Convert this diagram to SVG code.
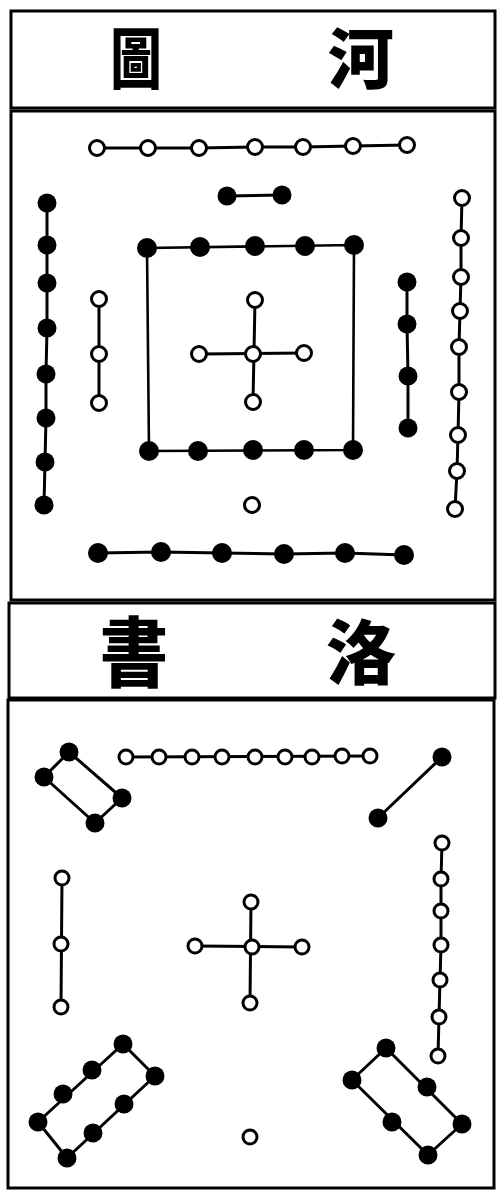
<svg xmlns="http://www.w3.org/2000/svg" width="498" height="1195" viewBox="0 0 498 1195">
<style>
.frame{fill:none;stroke:#000;stroke-width:3}
.ln{fill:none;stroke:#000;stroke-width:3;stroke-linecap:round;stroke-linejoin:round}
.sq{fill:none;stroke:#000;stroke-width:2.6}
.w{fill:#fff;stroke:#000;stroke-width:3}
.b{fill:#000}
.t{font-family:"Noto Sans CJK TC","Noto Sans CJK SC",serif;font-weight:900;fill:#000;text-anchor:middle}
</style>
<rect width="498" height="1195" fill="#fff"/>
<g id="frames">
<rect class="frame" x="11" y="11" width="484" height="97"/>
<rect class="frame" x="11" y="111" width="484" height="489"/>
<rect class="frame" x="9" y="603" width="486" height="95"/>
<rect class="frame" x="8" y="700" width="486" height="488"/>
</g>
<g id="title-hetu">
<text class="t" x="0" y="83" font-size="66" transform="translate(136,0) scale(0.78,1)">圖</text>
<text class="t" x="361" y="83" font-size="66">河</text>
</g>
<g id="title-luoshu">
<text class="t" x="0" y="681" font-size="76" transform="translate(134,0) scale(0.9,1)">書</text>
<text class="t" x="361" y="679" font-size="70">洛</text>
</g>
<g id="connectors">
<polyline class="ln" points="97,148 148,148 199,148 255,147 303,147 353,146 407,145"/>
<line class="ln" x1="227" y1="196" x2="282" y2="195"/>
<polyline class="ln" points="47,203 47,245 47,283 47,328 46,374 46,418 45,462 44,505"/>
<line class="ln" x1="99" y1="299" x2="99" y2="403"/>
<polyline class="sq" points="147,248 354,245 353,450 149,451 147,248"/>
<line class="ln" x1="255" y1="300" x2="253" y2="402"/>
<line class="ln" x1="199" y1="354" x2="304" y2="353"/>
<polyline class="ln" points="407,282 407,324 408,376 408,428"/>
<polyline class="ln" points="462,198 461,238 461,277 460,311 459,347 459,392 458,435 457,471 455,509"/>
<polyline class="ln" points="98,553 161,552 222,553 284,554 345,553 404,555"/>
<polyline class="ln" points="126,757 370,756"/>
<polygon class="ln" points="69,752 44,777 95,823 122,798"/>
<line class="ln" x1="442" y1="757" x2="378" y2="818"/>
<line class="ln" x1="62" y1="878" x2="61" y2="1007"/>
<line class="ln" x1="251" y1="902" x2="250" y2="1003"/>
<line class="ln" x1="195" y1="946" x2="302" y2="947"/>
<polyline class="ln" points="442,843 441,879 441,911 441,945 440,980 439,1017 438,1056"/>
<polygon class="ln" points="123,1044 155,1076 67,1158 38,1122"/>
<polygon class="ln" points="386,1048 462,1124 428,1155 352,1080"/>
</g>
<g id="hetu-north-7">
<circle class="w" cx="97" cy="148" r="7.5"/><circle class="w" cx="148" cy="148" r="7.5"/><circle class="w" cx="199" cy="148" r="7.5"/><circle class="w" cx="255" cy="147" r="7.5"/><circle class="w" cx="303" cy="147" r="7.5"/><circle class="w" cx="353" cy="146" r="7.5"/><circle class="w" cx="407" cy="145" r="7.5"/>
</g>
<g id="hetu-north-2">
<circle class="b" cx="227" cy="196" r="9.5"/><circle class="b" cx="282" cy="195" r="9.5"/>
</g>
<g id="hetu-west-8">
<circle class="b" cx="47" cy="203" r="9.5"/><circle class="b" cx="47" cy="245" r="9.5"/><circle class="b" cx="47" cy="283" r="9.5"/><circle class="b" cx="47" cy="328" r="9.5"/><circle class="b" cx="46" cy="374" r="9.5"/><circle class="b" cx="46" cy="418" r="9.5"/><circle class="b" cx="45" cy="462" r="9.5"/><circle class="b" cx="44" cy="505" r="9.5"/>
</g>
<g id="hetu-west-3">
<circle class="w" cx="99" cy="299" r="7.5"/><circle class="w" cx="99" cy="354" r="7.5"/><circle class="w" cx="99" cy="403" r="7.5"/>
</g>
<g id="hetu-center-10">
<circle class="b" cx="147" cy="248" r="10"/><circle class="b" cx="200" cy="247" r="10"/><circle class="b" cx="255" cy="246" r="10"/><circle class="b" cx="305" cy="246" r="10"/><circle class="b" cx="354" cy="245" r="10"/>
<circle class="b" cx="149" cy="451" r="10"/><circle class="b" cx="198" cy="451" r="10"/><circle class="b" cx="253" cy="450" r="10"/><circle class="b" cx="304" cy="450" r="10"/><circle class="b" cx="353" cy="450" r="10"/>
</g>
<g id="hetu-center-5">
<circle class="w" cx="255" cy="300" r="7.5"/><circle class="w" cx="253" cy="354" r="7.5"/><circle class="w" cx="199" cy="354" r="7.5"/><circle class="w" cx="304" cy="353" r="7.5"/><circle class="w" cx="253" cy="402" r="7.5"/>
</g>
<g id="hetu-east-4">
<circle class="b" cx="407" cy="282" r="9.5"/><circle class="b" cx="407" cy="324" r="9.5"/><circle class="b" cx="408" cy="376" r="9.5"/><circle class="b" cx="408" cy="428" r="9.5"/>
</g>
<g id="hetu-east-9">
<circle class="w" cx="462" cy="198" r="7.5"/><circle class="w" cx="461" cy="238" r="7.5"/><circle class="w" cx="461" cy="277" r="7.5"/><circle class="w" cx="460" cy="311" r="7.5"/><circle class="w" cx="459" cy="347" r="7.5"/><circle class="w" cx="459" cy="392" r="7.5"/><circle class="w" cx="458" cy="435" r="7.5"/><circle class="w" cx="457" cy="471" r="7.5"/><circle class="w" cx="455" cy="509" r="7.5"/>
</g>
<g id="hetu-south-1">
<circle class="w" cx="252" cy="505" r="7.5"/>
</g>
<g id="hetu-south-6">
<circle class="b" cx="98" cy="553" r="10"/><circle class="b" cx="161" cy="552" r="10"/><circle class="b" cx="222" cy="553" r="10"/><circle class="b" cx="284" cy="554" r="10"/><circle class="b" cx="345" cy="553" r="10"/><circle class="b" cx="404" cy="555" r="10"/>
</g>
<g id="luoshu-9">
<circle class="w" cx="126" cy="757" r="7"/><circle class="w" cx="159" cy="757" r="7"/><circle class="w" cx="192" cy="757" r="7"/><circle class="w" cx="222" cy="757" r="7"/><circle class="w" cx="255" cy="757" r="7"/><circle class="w" cx="285" cy="757" r="7"/><circle class="w" cx="312" cy="757" r="7"/><circle class="w" cx="342" cy="756" r="7"/><circle class="w" cx="370" cy="756" r="7"/>
</g>
<g id="luoshu-4">
<circle class="b" cx="69" cy="752" r="9.5"/><circle class="b" cx="44" cy="777" r="9.5"/><circle class="b" cx="95" cy="823" r="9.5"/><circle class="b" cx="122" cy="798" r="9.5"/>
</g>
<g id="luoshu-2">
<circle class="b" cx="442" cy="757" r="9.5"/><circle class="b" cx="378" cy="818" r="9.5"/>
</g>
<g id="luoshu-3">
<circle class="w" cx="62" cy="878" r="7"/><circle class="w" cx="61" cy="944" r="7"/><circle class="w" cx="61" cy="1007" r="7"/>
</g>
<g id="luoshu-5">
<circle class="w" cx="251" cy="902" r="7"/><circle class="w" cx="252" cy="947" r="7"/><circle class="w" cx="195" cy="946" r="7"/><circle class="w" cx="302" cy="947" r="7"/><circle class="w" cx="250" cy="1003" r="7"/>
</g>
<g id="luoshu-7">
<circle class="w" cx="442" cy="843" r="7"/><circle class="w" cx="441" cy="879" r="7"/><circle class="w" cx="441" cy="911" r="7"/><circle class="w" cx="441" cy="945" r="7"/><circle class="w" cx="440" cy="980" r="7"/><circle class="w" cx="439" cy="1017" r="7"/><circle class="w" cx="438" cy="1056" r="7"/>
</g>
<g id="luoshu-8">
<circle class="b" cx="123" cy="1044" r="9.5"/><circle class="b" cx="155" cy="1076" r="9.5"/><circle class="b" cx="124" cy="1104" r="9.5"/><circle class="b" cx="93" cy="1133" r="9.5"/><circle class="b" cx="67" cy="1158" r="9.5"/><circle class="b" cx="38" cy="1122" r="9.5"/><circle class="b" cx="63" cy="1094" r="9.5"/><circle class="b" cx="92" cy="1070" r="9.5"/>
</g>
<g id="luoshu-6">
<circle class="b" cx="386" cy="1048" r="9.5"/><circle class="b" cx="352" cy="1080" r="9.5"/><circle class="b" cx="427" cy="1087" r="9.5"/><circle class="b" cx="392" cy="1122" r="9.5"/><circle class="b" cx="462" cy="1124" r="9.5"/><circle class="b" cx="428" cy="1155" r="9.5"/>
</g>
<g id="luoshu-1">
<circle class="w" cx="250" cy="1137" r="7"/>
</g>
</svg>
